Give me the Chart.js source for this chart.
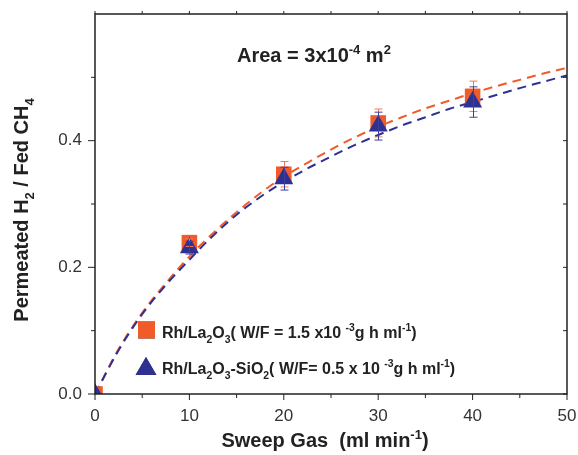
<!DOCTYPE html>
<html>
<head>
<meta charset="utf-8">
<script src="https://cdn.jsdelivr.net/npm/chart.js@4.4.1/dist/chart.umd.min.js"></script>
<style>
  body { margin: 0; background: #fff; }
  #wrap { width: 578px; height: 455px; position: relative; }
</style>
</head>
<body>
<div id="wrap"><canvas id="myChart"></canvas></div>
<script>
// measured points
const sweepGas = [0, 10, 20, 30, 40];
const rhLa = [0, 0.239, 0.347, 0.428, 0.470];
const rhLaErr = [0, 0.006, 0.020, 0.022, 0.024];
const rhLaSi = [0, 0.231, 0.340, 0.423, 0.461];
const rhLaSiErr = [0, 0.010, 0.018, 0.022, 0.024];

// fitted curves (dashed)
const fitX = [0, 2.5, 5, 7.5, 10, 12.5, 15, 17.5, 20, 22.5, 25, 27.5, 30, 32.5, 35, 37.5, 40, 42.5, 45, 47.5, 50];
const fitLa = [0, 0.071, 0.128, 0.175, 0.217, 0.254, 0.287, 0.317, 0.343, 0.365, 0.386, 0.405, 0.422, 0.437, 0.451, 0.463, 0.475, 0.486, 0.496, 0.506, 0.515];
const fitLaSi = [0, 0.069, 0.126, 0.172, 0.212, 0.250, 0.283, 0.311, 0.335, 0.356, 0.375, 0.393, 0.409, 0.424, 0.437, 0.450, 0.461, 0.472, 0.483, 0.493, 0.503];

// axis ticks
const xLabels = [0, 10, 20, 30, 40, 50];
const xMinor = [5, 15, 25, 35, 45];
const yLabels = [0, 0.2, 0.4];
const yMinor = [0.1, 0.3, 0.5];

const orange = '#f15a29';
const blue = '#2e3192';
const ink = '#222';
const FONT = '"Liberation Sans", Arial, Helvetica, sans-serif';

const pts = (xs, ys) => xs.map((v, i) => ({x: v, y: ys[i]}));

// draws text with sub/superscript pieces: [text, 'sub'|'sup'|undefined]
function rich(ctx, parts, x, y, size, align) {
  const f = s => 'bold ' + s + 'px ' + FONT;
  let w = 0;
  parts.forEach(p => { ctx.font = f(p[1] ? size * 0.65 : size); w += ctx.measureText(p[0]).width; });
  let cx = align === 'center' ? x - w / 2 : x;
  ctx.textAlign = 'left';
  ctx.textBaseline = 'alphabetic';
  parts.forEach(p => {
    ctx.font = f(p[1] ? size * 0.65 : size);
    const dy = p[1] === 'sub' ? size * 0.3 : p[1] === 'sup' ? -size * 0.42 : 0;
    ctx.fillText(p[0], cx, y + dy);
    cx += ctx.measureText(p[0]).width;
  });
}

const extras = {
  id: 'extras',
  afterDatasetsDraw(chart) {
    const {ctx, chartArea: a, scales: {x, y}} = chart;
    ctx.save();
    // error bars
    const bars = (ys, errs, color) => {
      ctx.strokeStyle = color;
      ctx.lineWidth = 1;
      sweepGas.forEach((v, i) => {
        if (!errs[i]) return;
        const px = Math.round(x.getPixelForValue(v)) + 0.5;
        const top = y.getPixelForValue(ys[i] + errs[i]);
        const bot = y.getPixelForValue(ys[i] - errs[i]);
        ctx.beginPath();
        ctx.moveTo(px, top); ctx.lineTo(px, bot);
        ctx.moveTo(px - 4, top); ctx.lineTo(px + 4, top);
        ctx.moveTo(px - 4, bot); ctx.lineTo(px + 4, bot);
        ctx.stroke();
      });
    };
    bars(rhLa, rhLaErr, '#f47a55');
    bars(rhLaSi, rhLaSiErr, '#3b40a0');

    // frame and tick marks
    ctx.strokeStyle = ink;
    ctx.lineWidth = 1.5;
    ctx.strokeRect(a.left, a.top, a.right - a.left, a.bottom - a.top);
    ctx.lineWidth = 1;
    ctx.beginPath();
    const xt = (v, len) => {
      const px = x.getPixelForValue(v);
      ctx.moveTo(px, a.bottom); ctx.lineTo(px, a.bottom + len);
      ctx.moveTo(px, a.top); ctx.lineTo(px, a.top - 3);
    };
    const yt = (v, len) => {
      const py = y.getPixelForValue(v);
      ctx.moveTo(a.left, py); ctx.lineTo(a.left - len, py);
      ctx.moveTo(a.right, py); ctx.lineTo(a.right - 4, py);
    };
    xLabels.forEach(v => xt(v, 6));
    xMinor.forEach(v => xt(v, 4));
    yLabels.forEach(v => yt(v, 7));
    yMinor.forEach(v => yt(v, 4));
    ctx.stroke();
    ctx.restore();
  },
  afterDraw(chart) {
    const ctx = chart.ctx;
    ctx.save();
    ctx.fillStyle = ink;
    rich(ctx, [['Area = 3x10'], ['-4', 'sup'], [' m'], ['2', 'sup']], 237, 62, 20);

    // legend
    Chart.helpers.drawPoint(ctx, {pointStyle: 'rect', radius: 12, borderWidth: 0}, 146.5, 330);
    ctx.fillStyle = orange;
    ctx.fill();
    ctx.fillStyle = ink;
    rich(ctx, [['Rh/La'], ['2', 'sub'], ['O'], ['3', 'sub'], ['( W/F = 1.5 x10 '], ['-3', 'sup'], ['g h ml'], ['-1', 'sup'], [')']], 162, 338, 16);
    Chart.helpers.drawPoint(ctx, {pointStyle: 'triangle', radius: 12, borderWidth: 0}, 146, 369);
    ctx.fillStyle = blue;
    ctx.fill();
    ctx.fillStyle = ink;
    rich(ctx, [['Rh/La'], ['2', 'sub'], ['O'], ['3', 'sub'], ['-SiO'], ['2', 'sub'], ['( W/F= 0.5 x 10 '], ['-3', 'sup'], ['g h ml'], ['-1', 'sup'], [')']], 162, 374, 16);

    // axis titles
    rich(ctx, [['Sweep Gas  (ml min'], ['-1', 'sup'], [')']], 325, 447, 20, 'center');
    ctx.translate(28, 210);
    ctx.rotate(-Math.PI / 2);
    rich(ctx, [['Permeated H'], ['2', 'sub'], [' / Fed CH'], ['4', 'sub']], 0, 0, 20, 'center');
    ctx.restore();
  }
};

new Chart('myChart', {
  type: 'scatter',
  data: {
    datasets: [
      {data: pts(sweepGas, rhLaSi), pointStyle: 'triangle', pointRadius: 11, backgroundColor: blue, borderWidth: 0, clip: 0},
      {data: pts(sweepGas, rhLa), pointStyle: 'rect', pointRadius: 11, backgroundColor: orange, borderWidth: 0, clip: 0},
      {data: pts(fitX, fitLaSi), showLine: true, pointRadius: 0, borderColor: blue, borderWidth: 2, borderDash: [9, 6], cubicInterpolationMode: 'monotone'},
      {data: pts(fitX, fitLa), showLine: true, pointRadius: 0, borderColor: orange, borderWidth: 2, borderDash: [9, 6], cubicInterpolationMode: 'monotone'}
    ]
  },
  options: {
    responsive: true,
    maintainAspectRatio: false,
    animation: false,
    events: [],
    layout: {padding: {top: 14, right: 11, left: 0, bottom: 0}},
    plugins: {legend: {display: false}, tooltip: {enabled: false}},
    scales: {
      x: {
        min: 0, max: 50,
        afterFit: s => { s.height = 61; s.paddingLeft = 0; s.paddingRight = 0; },
        grid: {display: false, drawTicks: false},
        border: {display: false},
        ticks: {stepSize: 10, autoSkip: false, padding: 12, color: '#333', font: {family: FONT, size: 17}}
      },
      y: {
        min: 0, max: 0.6,
        afterFit: s => { s.width = 95; s.paddingTop = 0; s.paddingBottom = 0; },
        grid: {display: false, drawTicks: false},
        border: {display: false},
        ticks: {
          stepSize: 0.1, autoSkip: false, padding: 13, color: '#333', font: {family: FONT, size: 17},
          callback: v => yLabels.some(t => Math.abs(t - v) < 1e-6) ? v.toFixed(1) : ''
        }
      }
    }
  },
  plugins: [extras]
});
</script>
</body>
</html>
